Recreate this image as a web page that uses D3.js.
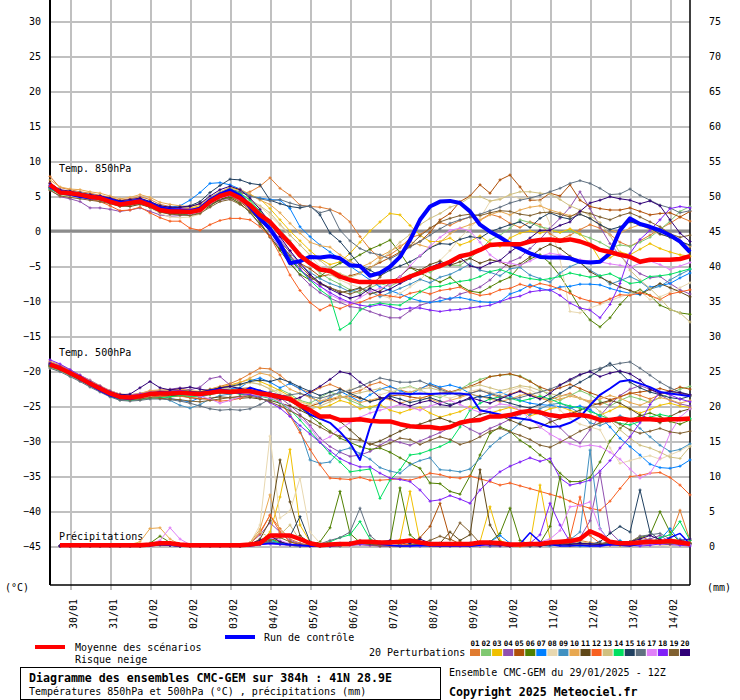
<!DOCTYPE html>
<html><head><meta charset="utf-8">
<script src="https://cdn.jsdelivr.net/npm/d3@7"></script>
<style>
body{margin:0;background:#fff}
svg{display:block;font-family:"DejaVu Sans Mono",monospace}
svg text, svg tspan{fill:#000}
</style></head><body>
<svg id="chart" width="740" height="700"></svg>
<script>
// ---------------- DATA ----------------
const runStartUTC = Date.UTC(2025,0,29,12);
const stepHours = 6;
const nSteps = 65;
const memberIds = ["01","02","03","04","05","06","07","08","09","10","11","12","13","14","15","16","17","18","19","20"];
const memberColors = ["#e07b30","#80c870","#f0c000","#9050b0","#b05008","#508000","#0080ff","#e8d8b0","#4090c0","#e8a850",
                      "#604818","#f86020","#d0c080","#00e060","#204060","#607080","#e080f8","#8020f8","#806030","#300078"];
const tempTicks = [-45,-40,-35,-30,-25,-20,-15,-10,-5,0,5,10,15,20,25,30];
const precipTicks = [0,5,10,15,20,25,30,35,40,45,50,55,60,65,70,75];
const dateTickLabels = ["30/01","31/01","01/02","02/02","03/02","04/02","05/02","06/02","07/02","08/02","09/02","10/02","11/02","12/02","13/02","14/02"];

const t850Mean = [6.6,5.5,5.4,5.2,4.9, 4.7,4.2,3.8,4.0,4.2, 3.7,3.0,2.8,2.8,2.7, 3.0,4.2,5.0,5.4,4.7, 3.7,2.3,1.3,-0.3,-1.8, -3.5,-4.6,-5.5,-5.7,-6.5, -7.0,-7.3,-7.3,-7.3,-7.2, -7.1,-6.5,-6.0,-5.4,-5.0, -4.4,-3.6,-3.3,-2.7,-2.0, -1.9,-1.9,-1.9,-1.5,-1.3, -1.2,-1.4,-1.2,-1.5,-2.0, -2.7,-3.0,-3.4,-3.7,-4.4, -4.1,-4.1,-4.1,-4.0,-3.6];
const t850Control = [6.4,5.6,5.3,5.0,4.8, 4.8,4.4,4.0,4.1,4.3, 3.9,3.2,3.0,2.9,2.8, 3.2,4.4,5.2,5.8,5.0, 3.5,1.8,0.3,-1.8,-4.6, -4.3,-3.7,-3.8,-3.6,-3.9, -4.9,-5.0,-6.4,-6.0,-5.1, -3.7,-1.3,1.6,3.5,4.2, 4.3,4.0,2.8,0.9,-0.1, -0.9,-1.8,-2.5,-3.2,-3.7, -3.8,-3.8,-3.9,-4.4,-4.5, -4.4,-3.2,0.1,1.8,1.0, 0.6,0.1,-0.6,-1.5,-3.0];
const t850Members = [
 [7.8,6.2,5.9,5.6,5.4, 5.1,4.8,4.4,4.6,4.9, 4.5,3.8,3.5,3.3,3.2, 3.4,4.2,4.9,5.5,5.3, 5.6,6.4,7.6,6.1,5.1, 3.7,3.5,3.4,3.1,2.5, 1.3,-0.8,-2.6,-3.9,-3.4, -2.4,-1.0,-0.5,0.4,1.2, 0.8,1.5,2.0,1.6,2.4, 2.0,1.1,0.5,1.3,0.9, -0.4,-1.2,-0.6,0.2,0.9, 0.4,-0.5,-1.6,-2.2,-1.4, -0.6,0.3,1.1,2.0,1.4],
 [6.0,5.2,5.0,4.9,4.6, 4.3,4.0,3.7,3.8,4.0, 3.6,2.9,2.6,2.6,2.5, 2.9,4.1,5.2,5.8,5.3, 4.1,2.8,1.5,0.1,-1.4, -3.2,-4.8,-6.0,-6.9,-7.6, -8.4,-8.9,-8.1,-7.5,-7.9, -7.2,-6.3,-5.6,-5.9,-5.1, -4.9,-4.9,-3.9,-2.7,-1.3, -0.6,0.4,1.6,1.2,0.6, 0.3,-0.2,0.0,-0.5,-1.0, -1.6,-2.4,-2.0,-2.2,-1.6, -0.9,0.2,1.4,2.8,3.5],
 [6.3,5.7,5.5,5.3,5.1, 4.9,4.5,4.2,4.3,4.5, 4.0,3.4,3.2,3.2,3.3, 3.6,4.5,5.5,6.2,5.8, 5.2,4.6,3.2,1.6,0.0, -1.4,-2.8,-4.0,-4.8,-4.4, -3.2,-1.6,0.0,1.3,2.5, 2.3,0.8,-0.6,-1.5,-1.5, -1.0,-2.0,-1.5,-0.7,-1.7, -2.2,-1.0,-0.3,0.0,-0.3, 0.1,-0.2,0.3,-0.4,-1.8, -4.1,-3.8,-3.0,-3.4,-2.6, -1.8,-2.5,-3.0,-3.4,-3.6],
 [5.9,4.9,4.6,4.2,3.3, 3.3,3.1,2.8,3.0,3.3, 2.8,2.3,2.1,2.2,2.4, 2.8,3.7,4.4,4.7,4.0, 2.6,0.9,-0.6,-2.4,-4.4, -6.3,-7.7,-8.8,-9.6,-10.2, -10.8,-11.0,-11.5,-12.0,-12.4, -12.4,-11.4,-10.6,-10.2,-9.5, -9.8,-9.0,-8.6,-8.0,-7.0, -5.6,-4.4,-3.8,-2.5,-1.2, 0.4,1.8,3.4,5.6,3.2, 0.6,-1.8,-3.5,-5.0,-6.1, -6.7,-6.5,-7.5,-8.4,-9.0],
 [6.7,5.6,5.5,5.4,5.2, 4.9,4.6,4.2,4.1,4.3, 3.8,3.2,2.9,3.0,3.0, 3.3,4.0,4.6,4.9,4.2, 3.0,1.6,0.2,-1.5,-3.0, -4.6,-5.4,-6.5,-6.2,-6.8, -6.4,-6.0,-5.2,-4.5,-3.8, -3.0,-2.2,-1.5,-0.2,1.6, 2.5,4.2,5.0,6.6,5.4, 7.3,8.0,6.3,4.4,4.4, 5.4,5.0,6.6,4.4,3.5, 3.2,3.0,3.0,3.3,2.8, 2.3,2.5,2.6,2.0,2.8],
 [6.2,5.3,5.2,5.0,4.8, 4.5,4.1,3.6,3.8,4.0, 3.5,2.8,2.5,2.4,2.3, 2.6,3.6,4.5,4.8,3.9, 2.7,1.0,-0.8,-2.8,-4.7, -6.2,-7.0,-6.5,-5.4,-4.6, -4.2,-3.4,-2.6,-2.0,-1.3, -3.1,-5.2,-6.0,-6.7,-7.3, -6.6,-7.8,-8.6,-8.8,-8.0, -7.2,-6.6,-5.0,-4.0,-3.4, -4.6,-6.4,-8.6,-11.0,-12.7, -13.7,-12.4,-10.5,-9.0,-8.4, -9.2,-10.6,-11.2,-11.7,-11.9],
 [6.5,5.7,5.6,5.5,5.2, 5.0,4.5,4.1,4.4,4.6, 4.2,3.6,3.4,3.6,4.4, 5.5,6.8,6.9,6.6,6.0, 5.0,4.7,4.5,4.4,3.2, 0.6,-0.8,-2.0,-3.0,-4.0, -5.0,-6.0,-7.0,-8.0,-8.5, -9.0,-9.6,-10.0,-10.2,-10.0, -9.6,-9.5,-9.8,-10.1,-10.2, -10.1,-9.0,-8.5,-7.7,-8.2, -8.5,-8.0,-7.9,-7.6,-7.6, -7.7,-8.2,-8.6,-8.9,-9.1, -8.0,-7.8,-7.5,-6.7,-6.0],
 [6.0,5.0,4.9,4.8,4.5, 4.4,4.0,3.5,3.6,3.9, 3.3,2.5,2.0,1.9,2.0, 2.4,3.9,4.8,5.3,4.9, 4.2,3.5,2.2,0.8,-0.6, -2.0,-3.5,-5.1,-6.2,-7.0, -7.6,-8.1,-8.5,-9.2,-9.6, -8.9,-8.0,-7.0,-5.5,-4.2, -2.8,-1.0,0.5,1.8,4.2, 4.7,5.1,4.6,4.8,4.2, 1.0,-4.0,-11.5,-11.7,-11.0, -10.5,-10.0,-9.4,-9.0,-8.6, -9.8,-9.4,-8.8,-8.1,-7.4],
 [6.1,5.3,5.1,4.9,4.7, 4.4,4.0,3.7,3.9,4.1, 3.6,2.9,2.6,2.5,2.4, 2.8,4.0,4.8,5.2,4.5, 3.4,2.0,0.6,-1.2,-3.0, -4.8,-5.9,-6.8,-7.5,-8.0, -8.7,-8.2,-8.6,-9.4,-8.8, -8.2,-7.6,-6.9,-7.4,-6.6, -6.2,-5.5,-4.7,-5.6,-5.9, -6.4,-5.4,-5.2,-6.3,-6.8, -7.3,-6.0,-5.1,-4.5,-5.6, -6.4,-7.6,-7.1,-6.5,-7.2, -8.3,-7.9,-7.0,-6.2,-5.5],
 [7.3,6.3,6.0,5.9,5.6, 5.4,5.0,4.6,4.8,5.2, 4.8,4.1,3.8,3.6,3.5, 3.8,4.8,5.6,6.2,6.0, 5.2,4.4,3.8,2.6,1.1, -0.3,-1.6,-2.1,-2.3,-3.4, -4.3,-5.2,-4.6,-3.6,-2.9, -2.1,-1.5,-2.0,-2.4,-1.6, -0.4,0.4,0.9,1.5,2.3, 2.8,2.3,3.0,3.4,3.6, 3.0,2.6,2.2,2.4,1.8, 0.8,0.2,-0.3,0.4,0.9, 0.2,-0.5,-0.8,-1.4,-2.2],
 [6.3,5.6,5.3,5.1,4.8, 4.6,4.1,3.6,3.5,3.8, 3.4,2.7,2.5,2.5,2.6, 2.9,3.8,4.5,5.0,4.4, 3.2,1.3,-0.9,-2.6,-4.1, -5.6,-6.6,-7.4,-8.1,-8.8, -8.5,-8.1,-9.0,-8.6,-7.4, -6.5,-5.2,-5.6,-4.8,-4.3, -4.9,-4.4,-3.9,-4.6,-4.1, -4.4,-5.1,-4.7,-3.7,-2.6, -1.9,-2.5,-3.6,-4.5,-5.8, -6.6,-7.3,-8.0,-8.5,-9.0, -8.3,-7.5,-8.1,-8.7,-9.4],
 [6.9,5.8,5.5,5.0,4.6, 4.2,3.6,2.9,3.0,3.4, 2.6,1.9,1.4,1.4,0.4, 0.1,0.9,1.5,1.8,1.8, 1.6,0.6,-0.8,-3.4,-6.3, -8.5,-10.2,-11.3,-10.6,-11.1, -10.5,-10.2,-9.6,-9.1,-9.3, -9.5,-8.9,-8.6,-9.0,-8.5, -8.3,-8.0,-8.8,-9.2,-9.0, -8.4,-8.2,-7.6,-8.0,-7.5, -7.8,-8.3,-8.9,-9.6,-10.0, -10.3,-9.7,-9.1,-9.2,-8.8, -9.2,-9.8,-9.0,-8.7,-8.4],
 [6.0,5.4,5.2,5.0,4.9, 4.6,4.3,4.0,4.2,4.5, 3.9,3.3,3.1,3.2,3.5, 3.9,4.8,5.6,6.0,5.4, 4.5,3.6,2.6,1.0,-0.6, -2.0,-3.4,-4.2,-5.4,-6.1, -6.6,-6.1,-5.3,-4.2,-3.0, -1.6,-0.5,0.9,1.8,2.5, 3.4,3.9,4.8,4.9,4.3, 4.5,5.2,5.6,5.6,5.4, 5.3,4.5,3.6,3.0,2.2, 1.2,-0.6,-3.2,-5.6,-7.0, -8.2,-9.6,-11.2,-11.7,-13.0],
 [6.0,5.3,5.2,5.0,4.7, 4.5,4.1,3.8,4.0,4.1, 3.5,2.9,2.7,2.8,2.7, 3.1,4.3,5.3,6.0,5.4, 4.4,2.8,0.8,-1.6,-3.8, -5.6,-7.0,-8.4,-9.4,-14.1, -13.2,-11.3,-10.6,-10.3,-10.5, -10.6,-9.7,-8.7,-8.0,-7.9, -7.5,-7.2,-7.0,-6.5,-5.8, -5.5,-6.0,-6.5,-6.8,-7.0, -6.8,-6.5,-6.0,-6.3,-6.6, -6.4,-6.1,-6.8,-7.5,-7.3, -6.5,-6.4,-6.2,-5.8,-5.4],
 [6.3,5.5,5.4,5.2,5.0, 4.8,4.4,4.0,4.2,4.4, 4.0,3.4,3.3,3.4,3.6, 4.2,5.5,6.5,7.4,7.3, 6.8,6.6,4.4,3.9,3.5, 3.3,3.6,2.3,-0.3,-1.5, -3.2,-4.9,-5.6,-6.4,-5.6, -5.0,-4.4,-3.6,-2.4,-1.8, -1.9,-1.2,-0.8,-1.0,-0.1, 0.4,0.9,1.3,0.5,1.8, 2.6,2.0,1.7,2.4,1.8, 0.9,0.2,0.6,1.3,0.9, 0.4,-0.4,-0.9,-1.5,-2.0],
 [6.2,5.4,5.2,5.0,4.8, 4.5,4.1,3.7,3.9,4.1, 3.6,3.0,2.8,2.8,2.9, 3.3,4.5,5.4,6.0,5.6, 5.0,4.6,4.3,4.5,4.0, 3.6,3.5,2.6,3.0,0.1, -1.4,-2.5,-3.1,-3.4,-4.0, -3.2,-2.3,-1.5,-0.6,0.3, 1.1,1.6,2.0,2.4,2.9, 3.4,4.0,4.4,4.7,5.1, 5.6,6.1,6.8,7.2,6.8, 6.1,5.2,5.3,6.0,5.1, 4.4,3.7,3.3,2.6,2.9],
 [6.4,5.5,5.3,5.1,4.9, 4.7,4.3,3.9,4.1,4.3, 3.8,3.1,2.9,2.7,2.4, 2.7,3.9,4.7,5.1,4.4, 3.3,1.9,0.6,-1.1,-2.9, -4.7,-6.2,-7.8,-9.1,-9.8, -10.4,-9.5,-8.7,-8.2,-7.7, -6.5,-5.0,-3.5,-2.2,-0.9, 0.1,0.4,0.0,-1.6,-3.4, -4.4,-4.6,-4.9,-4.3,-3.6, -3.2,-3.4,-3.8,-4.1,-4.3, -4.4,-4.7,-4.9,-5.2,-4.6, -4.3,-4.8,-5.5,-5.0,-4.5],
 [6.5,5.6,5.4,5.2,5.1, 4.8,4.4,4.0,4.3,4.6, 4.1,3.5,3.3,3.2,3.1, 3.3,4.3,5.0,5.5,4.7, 3.6,2.2,0.4,-1.6,-3.6, -5.4,-6.9,-7.9,-8.8,-9.6, -10.2,-10.6,-10.8,-10.5,-10.8, -11.2,-11.0,-11.0,-11.3,-11.5, -11.3,-11.2,-11.0,-10.8,-10.6, -10.1,-9.6,-9.3,-8.7,-8.5, -8.4,-9.2,-10.3,-11.0,-11.3, -12.4,-10.5,-7.5,-3.2,-1.2, 0.1,1.6,3.2,3.5,3.3],
 [5.8,5.0,4.8,4.6,4.4, 4.2,3.9,3.5,3.7,3.9, 3.4,2.7,2.4,2.3,2.2, 2.5,3.4,4.2,4.5,3.8, 2.8,1.5,0.0,-1.8,-3.5, -5.0,-6.4,-7.6,-8.1,-8.6, -9.0,-8.5,-7.8,-6.6,-5.0, -3.5,-2.1,-0.7,0.4,1.3, 1.8,2.2,2.4,2.2,2.6, 2.9,2.8,2.4,2.2,2.6, 2.7,2.4,2.0,2.8,2.5, 2.0,1.6,2.2,2.6,2.0, 1.3,0.6,-0.4,-0.9,-0.6],
 [6.8,5.9,5.7,5.4,5.2, 5.0,4.7,4.3,4.5,4.7, 4.2,3.6,3.4,3.4,3.5, 3.9,5.0,5.9,6.4,5.9, 4.7,3.1,1.2,-0.8,-2.8, -4.6,-6.2,-7.4,-8.3,-9.0, -9.6,-9.2,-8.2,-8.8,-8.3, -7.5,-6.8,-6.0,-5.2,-4.6, -4.8,-3.8,-5.0,-5.3,-4.6, -4.2,-3.0,-2.0,-1.0,0.1, 0.1,0.8,1.3,2.8,4.0, 4.4,4.9,4.6,4.4,3.9, 4.3,3.6,1.6,-0.3,-1.5]
];

const t500Mean = [-19.1,-19.6,-20.3,-21.0,-21.8, -22.5,-23.2,-23.7,-23.8,-23.6, -23.3,-23.2,-23.2,-23.1,-23.2, -23.3,-23.1,-22.9,-23.0,-22.9, -22.9,-23.2,-23.4,-23.7,-24.0, -24.9,-25.6,-26.5,-26.5,-27.0, -27.0,-26.9,-27.1,-27.2,-27.2, -27.6,-27.9,-28.0,-28.0,-28.2, -28.0,-27.4,-27.1,-27.0,-26.5, -26.5,-26.3,-25.9,-25.7,-25.9, -26.3,-26.5,-26.3,-26.3,-26.5, -27.0,-27.0,-26.8,-27.0,-26.9, -26.9,-27.0,-26.9,-26.9,-26.8];
const t500Control = [-19.0,-19.5,-20.4,-21.2,-22.0, -22.8,-23.5,-23.9,-24.0,-23.7, -23.4,-23.0,-23.1,-23.3,-23.0, -23.2,-22.8,-22.6,-22.9,-23.1, -22.4,-22.8,-23.2,-23.5,-23.9, -25.0,-26.2,-26.8,-27.4,-28.7, -30.3,-32.7,-28.0,-24.5,-23.2, -23.2,-23.3,-23.2,-23.3,-23.2, -23.2,-23.2,-23.4,-25.6,-25.9, -26.2,-26.6,-26.8,-27.0,-27.5, -28.0,-27.9,-27.4,-26.6,-24.9, -23.4,-22.5,-21.5,-21.3,-21.8, -22.3,-23.0,-23.2,-23.4,-23.6];
const t500Members = [
 [-18.7,-19.3,-20.0,-20.8,-21.6, -22.3,-23.0,-23.5,-23.6,-23.4, -23.0,-22.9,-22.8,-22.6,-22.9, -23.0,-22.6,-22.2,-21.8,-21.2, -20.4,-19.6,-19.7,-20.6,-21.8, -22.6,-23.1,-22.4,-21.9,-22.5, -23.2,-22.8,-22.0,-21.6,-22.3, -22.7,-23.1,-22.5,-22.0,-22.4, -23.0,-23.6,-23.2,-22.7,-23.3, -23.8,-23.3,-22.8,-23.4,-23.9, -24.1,-23.6,-23.2,-23.9,-24.5, -24.8,-24.3,-23.7,-23.1,-23.5, -24.0,-23.4,-22.9,-23.2,-23.5],
 [-19.2,-19.8,-20.5,-21.2,-22.0, -22.7,-23.4,-23.9,-24.0,-23.8, -23.5,-23.5,-23.6,-23.4,-23.6, -23.7,-23.4,-23.1,-23.3,-23.1, -23.2,-23.6,-23.0,-22.6,-23.3, -24.2,-24.6,-23.8,-23.0,-23.5, -24.2,-24.8,-25.4,-24.6,-23.4, -22.5,-22.2,-22.7,-23.4,-23.8, -23.2,-22.6,-21.8,-21.2,-20.8, -20.6,-20.5,-20.7,-21.4,-22.5, -23.6,-24.2,-23.5,-22.8,-23.4, -24.3,-25.0,-24.2,-23.6,-24.0, -24.5,-23.8,-23.2,-22.6,-22.2],
 [-19.3,-19.7,-20.4,-21.1,-21.9, -22.6,-23.2,-23.6,-23.7,-23.5, -23.2,-23.1,-23.0,-22.9,-23.2, -23.1,-22.7,-22.3,-22.0,-21.6, -21.2,-21.5,-22.1,-22.8,-23.6, -24.4,-24.8,-25.3,-24.9,-24.2, -24.6,-25.4,-25.1,-24.8,-25.6, -26.0,-25.5,-25.2,-26.0,-26.6, -26.2,-25.8,-25.1,-25.5,-26.0, -25.6,-25.2,-25.6,-26.4,-26.0, -25.4,-25.1,-25.6,-26.2,-26.7, -26.3,-25.7,-25.0,-25.4,-26.0, -25.5,-24.9,-24.6,-25.0,-25.2],
 [-18.8,-19.2,-19.9,-20.6,-21.3, -22.1,-22.8,-23.3,-23.4,-23.2, -22.9,-22.8,-22.6,-22.4,-22.7, -22.3,-21.1,-20.8,-22.0,-22.8, -23.1,-23.4,-23.0,-23.8,-24.9, -26.2,-27.8,-29.6,-30.8,-31.6, -32.2,-32.0,-31.5,-30.6,-29.8, -30.2,-30.6,-30.0,-29.4,-28.8, -28.1,-27.5,-28.3,-29.0,-28.2, -27.6,-26.9,-26.2,-25.5,-26.1, -26.9,-28.1,-29.5,-30.3,-28.4, -26.4,-24.8,-23.5,-22.6,-22.1, -22.6,-23.4,-24.2,-24.7,-25.0],
 [-19.0,-19.5,-20.2,-20.9,-21.6, -22.4,-23.0,-23.5,-23.6,-23.5, -23.1,-23.0,-23.0,-22.9,-23.1, -23.2,-22.9,-22.6,-22.7,-22.5, -22.4,-22.8,-23.3,-23.7,-24.2, -24.8,-25.0,-24.6,-24.1,-23.8, -23.5,-23.9,-24.3,-24.0,-23.6, -23.4,-23.7,-23.9,-23.5,-23.2, -23.0,-22.6,-22.2,-21.6,-20.8, -20.6,-20.4,-20.8,-21.5,-22.3, -22.8,-22.4,-21.9,-22.5,-23.1, -23.6,-24.1,-23.7,-23.2,-23.0, -22.8,-22.5,-22.9,-22.3,-22.6],
 [-19.4,-19.9,-20.6,-21.3,-22.1, -22.8,-23.5,-24.0,-24.0,-23.8, -23.5,-23.4,-23.4,-23.3,-23.4, -23.5,-23.3,-23.1,-23.2,-23.1, -23.0,-23.2,-23.5,-23.8,-24.3, -25.2,-26.4,-27.5,-28.6,-29.6, -30.2,-30.8,-31.2,-31.0,-31.6, -32.4,-33.2,-33.9,-36.0,-36.1, -37.2,-37.6,-35.0,-32.0,-28.9, -28.0,-28.6,-29.9,-30.8,-32.0, -33.0,-34.6,-35.8,-35.8,-35.2, -33.0,-30.0,-28.2,-27.0,-26.4, -26.0,-26.5,-27.2,-27.6,-27.0],
 [-19.1,-19.7,-20.4,-21.0,-21.8, -22.5,-23.3,-23.8,-23.8,-23.6, -23.4,-23.5,-23.9,-24.2,-24.4, -23.8,-23.2,-22.8,-22.5,-22.4, -21.4,-21.0,-21.6,-22.4,-21.8, -22.5,-23.5,-24.6,-23.8,-22.9, -23.6,-24.4,-23.4,-22.6,-22.2, -22.8,-23.4,-22.6,-21.8,-22.3, -22.0,-22.4,-23.2,-23.8,-23.4, -23.0,-23.6,-24.2,-24.6,-24.8, -24.9,-25.1,-25.3,-25.0,-25.5, -26.5,-28.0,-29.6,-30.8,-32.0, -33.3,-33.8,-33.9,-33.6,-32.7],
 [-19.6,-20.0,-20.6,-21.4,-22.2, -22.9,-23.6,-24.1,-24.2,-24.0, -23.7,-23.6,-23.5,-23.4,-23.5, -23.4,-23.1,-22.7,-22.4,-21.9, -21.7,-21.9,-22.5,-23.1,-23.8, -24.4,-24.9,-24.3,-23.6,-23.1, -22.6,-22.3,-22.9,-23.4,-23.0, -22.6,-22.3,-22.8,-23.2,-23.5, -23.9,-23.4,-22.9,-22.6,-23.0, -23.4,-22.8,-22.3,-22.7,-23.4, -24.2,-25.6,-26.8,-27.6,-28.0, -28.4,-31.0,-33.2,-32.8,-32.4, -32.1,-32.6,-32.0,-31.4,-30.6],
 [-19.3,-19.9,-20.6,-21.3,-22.0, -22.8,-23.5,-23.9,-23.9,-23.8, -23.6,-23.8,-24.2,-24.9,-25.3, -24.8,-24.0,-23.5,-23.3,-23.0, -22.7,-22.9,-23.4,-24.3,-26.2, -28.4,-32.7,-33.2,-33.0,-31.4, -31.0,-31.8,-32.6,-33.8,-34.3, -34.6,-33.4,-32.8,-32.4,-34.1, -34.2,-34.4,-34.0,-32.5,-30.8, -29.6,-28.7,-27.4,-26.2,-25.4, -24.8,-24.6,-25.2,-26.0,-27.4, -27.8,-27.2,-26.4,-27.0,-28.2, -29.4,-30.6,-31.5,-31.2,-30.4],
 [-18.6,-19.1,-19.8,-20.6,-21.4, -22.1,-22.8,-23.3,-23.4,-23.2, -22.8,-22.7,-22.7,-22.6,-22.8, -22.9,-22.6,-22.3,-22.1,-21.7, -21.0,-20.3,-20.6,-21.5,-22.6, -23.2,-23.8,-24.3,-24.0,-23.6, -23.9,-24.5,-24.2,-23.8,-24.1, -24.6,-24.2,-23.8,-24.0,-24.5, -24.2,-23.8,-23.3,-23.6,-24.0, -24.4,-24.0,-23.5,-23.2,-23.8, -24.4,-24.0,-23.6,-23.9,-24.3, -24.0,-23.5,-23.9,-24.5,-24.9, -24.3,-23.8,-24.1,-24.6,-24.2],
 [-19.2,-19.7,-20.3,-21.1,-21.9, -22.6,-23.3,-23.8,-24.0,-23.9, -23.6,-23.6,-23.5,-23.5,-23.8, -24.0,-23.9,-23.7,-23.8,-23.9, -23.8,-24.0,-24.2,-24.6,-25.0, -25.6,-26.3,-26.8,-26.4,-27.2, -28.4,-29.7,-30.5,-30.0,-29.3, -28.6,-28.0,-27.6,-27.1,-26.7, -27.2,-27.6,-27.0,-26.2,-25.9, -26.4,-27.0,-27.6,-28.2,-28.0, -27.3,-26.8,-26.1,-25.6,-25.0, -24.6,-24.2,-24.6,-25.4,-26.3, -26.8,-27.4,-26.5,-25.8,-25.4],
 [-19.0,-19.6,-20.4,-21.1,-21.8, -22.6,-23.4,-23.9,-24.0,-23.9, -23.6,-23.6,-23.7,-23.6,-23.8, -23.9,-24.1,-24.3,-24.2,-23.9, -23.4,-23.0,-23.6,-24.3,-26.4, -28.8,-31.2,-33.4,-35.3,-35.4, -35.5,-35.2,-35.6,-35.6,-35.5, -35.4,-35.6,-35.2,-34.6,-34.8, -35.2,-35.3,-35.0,-35.4,-35.8, -36.3,-36.0,-36.4,-36.8,-37.2, -37.6,-38.0,-38.6,-39.2,-39.6, -39.9,-38.6,-36.8,-35.1,-34.9, -34.6,-34.5,-35.2,-36.3,-37.7],
 [-19.5,-20.0,-20.7,-21.4,-22.2, -22.9,-23.6,-24.1,-24.1,-23.9, -23.6,-23.4,-23.3,-23.2,-23.3, -23.4,-23.0,-22.6,-22.3,-22.0, -21.6,-21.9,-22.6,-23.4,-24.2, -24.9,-25.5,-25.0,-24.4,-23.8, -23.4,-23.1,-22.8,-22.5,-22.9, -23.3,-23.0,-22.6,-22.4,-22.8, -23.1,-22.7,-22.3,-22.0,-22.4, -22.8,-22.5,-22.1,-22.3,-22.8, -23.2,-23.6,-23.4,-23.9,-24.6, -25.8,-27.0,-28.4,-29.6,-30.6, -31.0,-31.6,-32.3,-32.5,-30.8],
 [-19.4,-19.9,-20.6,-21.3,-22.1, -22.8,-23.6,-24.1,-24.2,-24.1, -23.9,-23.8,-23.7,-23.5,-23.6, -23.6,-23.3,-23.0,-23.1,-23.3, -23.5,-23.6,-23.9,-24.5,-25.5, -27.0,-28.6,-30.2,-31.8,-33.0, -34.4,-34.2,-34.0,-38.2,-35.6, -34.1,-32.0,-31.8,-31.3,-30.8, -30.1,-28.0,-25.6,-24.6,-24.0, -23.7,-23.9,-24.3,-24.0,-23.6, -24.0,-24.6,-25.0,-25.3,-25.8, -26.3,-26.9,-27.5,-27.7,-27.2, -26.6,-26.2,-26.5,-27.0,-26.8],
 [-19.1,-19.6,-20.3,-21.0,-21.8, -22.5,-23.2,-23.6,-23.7,-23.5, -23.2,-23.0,-22.9,-22.8,-22.9, -23.0,-22.7,-22.4,-22.2,-21.9, -21.5,-21.3,-21.5,-21.1,-21.6, -22.3,-22.9,-23.5,-23.0,-22.6, -23.2,-23.8,-24.4,-24.0,-23.6, -24.0,-24.5,-24.2,-23.8,-24.3, -24.8,-24.4,-24.0,-23.6,-23.8, -24.2,-24.6,-25.0,-25.3,-24.8, -24.0,-23.2,-22.4,-21.6,-20.8, -19.8,-18.9,-20.2,-21.6,-22.4, -23.0,-23.4,-23.8,-24.0,-23.6],
 [-19.6,-20.1,-20.8,-21.5,-22.3, -23.0,-23.7,-24.2,-24.3,-24.2, -24.0,-24.0,-24.1,-24.3,-24.6, -25.0,-25.4,-25.6,-25.5,-25.6, -25.4,-24.8,-24.0,-23.6,-23.4, -23.2,-23.6,-23.9,-23.5,-23.1, -22.8,-22.2,-21.6,-21.0,-21.3, -21.6,-21.6,-21.4,-22.0,-22.6, -23.1,-23.5,-23.2,-22.8,-23.2, -23.6,-24.0,-23.8,-23.4,-23.0, -22.6,-22.0,-21.4,-20.6,-20.0, -19.6,-19.2,-18.9,-18.7,-19.6, -20.6,-21.6,-22.4,-23.0,-23.4],
 [-18.9,-19.4,-20.1,-20.9,-21.7, -22.4,-23.1,-23.6,-23.7,-23.6, -23.3,-23.2,-23.1,-23.1,-23.4, -23.6,-24.0,-24.6,-24.2,-23.7, -23.3,-23.5,-23.8,-24.4,-25.4, -26.6,-28.0,-30.1,-29.4,-28.2, -27.4,-26.6,-26.0,-25.6,-25.2, -24.8,-25.2,-25.6,-25.0,-24.6, -24.2,-24.8,-25.4,-25.9,-25.3, -24.7,-24.9,-25.6,-26.8,-28.0, -29.0,-29.8,-30.4,-30.8,-30.6, -30.8,-31.6,-32.6,-34.0,-35.3, -34.6,-32.4,-28.9,-26.6,-25.4],
 [-18.4,-19.0,-19.8,-20.6,-21.5, -22.2,-22.9,-23.4,-23.5,-23.3, -23.1,-23.0,-22.9,-22.8,-23.0, -23.1,-22.9,-22.8,-23.0,-23.2, -23.4,-23.8,-24.5,-25.3,-26.5, -27.8,-29.0,-30.2,-31.4,-32.5, -33.2,-33.7,-33.7,-34.6,-35.3, -35.5,-35.8,-37.0,-38.6,-38.4, -37.8,-38.3,-38.9,-37.0,-35.6, -34.4,-33.6,-33.0,-32.4,-32.9, -32.5,-35.3,-36.3,-36.0,-35.6, -34.3,-32.8,-31.0,-29.4,-27.4, -24.8,-23.0,-23.4,-24.0,-24.4],
 [-19.3,-19.8,-20.5,-21.2,-22.0, -22.7,-23.4,-23.9,-24.1,-24.0, -23.8,-23.9,-24.0,-24.1,-24.3, -24.4,-24.2,-24.0,-23.8,-23.6, -23.6,-23.9,-24.4,-25.0,-25.7, -26.4,-27.2,-28.0,-28.8,-29.3, -29.7,-29.9,-30.4,-30.8,-30.3, -29.6,-29.8,-30.5,-29.9,-29.4, -29.8,-30.5,-30.1,-29.4,-28.6, -28.2,-28.7,-29.2,-29.8,-30.6, -30.9,-30.2,-29.4,-28.6,-28.0, -27.4,-27.0,-27.6,-28.4,-28.9, -28.6,-28.2,-28.7,-28.9,-28.6],
 [-18.9,-19.4,-20.1,-20.8,-21.6, -22.3,-23.0,-23.4,-23.3,-22.4, -21.5,-22.4,-22.7,-22.5,-22.3, -22.6,-22.8,-22.4,-22.2,-22.5, -22.8,-23.2,-23.6,-24.0,-24.2, -23.8,-23.0,-22.2,-21.2,-20.1, -20.4,-21.6,-22.6,-23.8,-23.9, -24.6,-25.0,-24.5,-24.2,-24.8, -25.0,-24.4,-23.8,-24.2,-24.6, -24.0,-23.4,-22.9,-23.5,-24.0, -23.2,-22.0,-21.2,-20.5,-20.1, -20.8,-20.3,-20.0,-20.4,-21.3, -22.6,-23.2,-22.9,-23.1,-23.4]
];

const precipMean = [null,0.1,0.1,0.1,0.1, 0.1,0.1,0.1,0.1,0.1, 0.2,0.4,0.4,0.2,0.1, 0.1,0.1,0.1,0.1,0.1, 0.2,0.4,1.5,1.5,1.5, 1.0,0.4,0.1,0.2,0.3, 0.3,0.6,0.6,0.5,0.5, 0.6,0.8,0.5,0.3,0.3, 0.3,0.3,0.3,0.5,0.5, 0.4,0.2,0.2,0.3,0.3, 0.5,0.6,0.7,1.0,2.1, 1.5,0.6,0.4,0.4,0.5, 0.6,0.6,0.7,0.5,0.3];
const precipControl = [null,0,0,0,0, 0,0,0,0,0, 0,0.2,0.1,0,0, 0,0,0,0,0, 0,0.2,0.4,0.3,0.2, 0.1,0,0,0,0.1, 0.2,0.8,0.6,0.3,0.1, 0,0,0.1,0,0, 0,0,0,0.1,0.4, 0.2,0,0.3,1.9,0.6, 0.2,0,0,0.1,0, 0,0.2,0.1,0,0.3, 0.6,0.4,1.2,1.8,0.3];
const precipMembers = [
 [null,0,0,0,0, 0,0,0,0,0.1, 0.3,0.6,0.4,0.1,0, 0,0,0,0,0, 0.3,2.0,4.4,2.5,1.0, 0.4,0.1,0,0.2,0.3, 0.5,0.8,0.4,0.2,0.1, 0,0.2,0.4,0.1,0, 0.3,0.6,0.2,0,0.1, 0.3,0.1,0,0.2,0.4, 0.6,0.3,0.2,0.8,0.5, 0.3,0.2,0.1,0.6,1.4, 0.8,0.3,1.2,5.1,0.8],
 [null,0,0,0,0, 0,0,0,0,0, 0.2,0.4,0.3,0,0, 0,0,0,0,0, 0.2,0.8,1.5,0.6,0.3, 0.1,0,0,0.1,0.2, 0.3,0.4,0.2,0.1,0, 0,0.1,0,0,0.2, 0.4,0.2,0,0,0, 0,0.1,0.3,0.2,0.1, 0.2,0.4,0.6,0.3,0.1, 0,0.2,0.1,0.3,0.6, 1.0,0.4,0.2,0.5,0.8],
 [null,0,0,0,0, 0,0,0,0,0, 0.1,0.3,0.2,0,0, 0,0,0,0,0, 0.1,0.6,2.0,7.0,13.8, 3.0,0.6,0.2,0.1,0, 0.2,0.3,0.1,0.4,0.2, 0.9,7.8,0.6,0.2,0, 0,0.1,0.3,0.6,5.6, 0.8,0.2,0,0.3,8.7, 1.0,0.2,0,0.1,0.3, 0.2,0.4,0.1,0,0.2, 0.3,0.5,0.2,0.6,0.4],
 [null,0,0,0,0, 0,0,0,0,0, 0.2,0.3,0.2,0,0, 0,0,0,0,0, 0.4,1.6,3.3,2.0,0.8, 0.3,0.1,0,0,0.2, 0.4,0.6,0.3,0.1,0, 0,0.2,0.5,0.3,0.1, 0,0,0.2,0.4,0.2, 0.1,0,0.2,0.1,0.3, 0.5,0.2,0.4,1.2,3.6, 10.4,2.0,0.6,0.3,0.8, 1.0,1.5,0.6,0.3,0.2],
 [null,0,0,0,0, 0,0,0,0,0, 0.1,0.2,0.1,0,0, 0,0,0,0,0, 0.2,0.5,1.0,0.6,0.2, 0.1,0,0,0.1,0.3, 0.4,0.6,0.3,0,0, 0,0.3,1.2,2.8,6.1, 1.0,0.3,0.1,0,0.2, 0.1,0,0,0.2,0.1, 0.3,0.2,0.4,0.2,0.1, 0.3,0.6,0.2,0.1,0.4, 0.2,0.4,0.3,0.5,0.2],
 [null,0,0,0,0, 0,0,0,0,0, 0.4,1.4,0.5,0.1,0, 0,0,0,0,0, 0.1,0.3,0.6,0.3,0.1, 0,0.2,0.6,2.6,7.8, 1.8,0.5,0.3,0.2,0.6, 8.3,1.6,0.4,0.2,0.1, 0,0.2,0.1,0.3,0.6, 1.8,5.4,0.8,0.2,0.4, 2.8,9.9,1.2,0.3,0.1, 0.2,0.1,0.3,0.6,1.2, 1.6,4.9,2.0,0.6,0.3],
 [null,0,0,0,0, 0,0,0,0,0, 0.1,0.2,0.1,0,0, 0,0,0,0,0, 0.1,0.4,0.8,0.4,0.2, 0,0,0,0,0.1, 0.2,0.3,0.1,0,0, 0,0,0,0,0, 0,0.1,0,0.2,0.6, 1.5,0.4,0.2,0,0.1, 0,0.2,0.1,0,0, 0.2,0.3,0.8,0.2,0.1, 0.4,0.9,2.5,0.6,0.3],
 [null,0,0,0,0, 0,0,0,0,0, 0.1,0.2,0.1,0,0, 0,0,0,0,0, 0.4,3.0,15.7,4.0,5.0, 9.7,2.0,0.4,0.1,0, 0.1,0.2,0.1,0,0, 0,0.1,0.2,0,0, 0,0,0.1,0.2,0.1, 0,0,0.1,0.3,0.2, 0.1,0,0.2,0.4,0.3, 0.1,0,0.2,0.6,0.4, 0.2,0.1,0,0.3,0.2],
 [null,0,0,0,0, 0,0,0,0,0, 0.1,0.2,0.1,0,0, 0,0,0,0,0, 0.1,0.3,0.5,0.3,0.1, 0,0,0.1,0.2,0.4, 0.5,0.6,0.3,0.1,0, 0,0,0.1,0.3,0.1, 0,0,0.2,0.1,0, 0.3,0.2,0.1,0,0.2, 0.4,0.6,0.9,2.0,13.7, 2.5,0.6,0.3,0.2,0.4, 0.6,0.3,0.5,1.0,0.4],
 [null,0,0,0,0, 0,0,0,0.2,0.6, 2.5,2.6,1.0,0.2,0, 0,0,0,0,0, 0.5,2.4,7.3,2.0,0.6, 0.2,0,0,0.1,0.2, 0.3,0.4,0.2,0,0, 0,0.1,0.3,0.2,0, 0.1,0.3,0.2,0,0.1, 0.2,0.1,0,0.1,0.3, 0.2,0.4,0.2,0.1,0.3, 0.2,0.1,0.3,0.5,0.2, 0.4,0.6,0.3,0.8,0.5],
 [null,0,0,0,0, 0,0,0,0,0, 0.1,0.2,0.1,0,0, 0,0,0,0,0, 0.2,1.0,3.6,12.3,6.3, 1.5,0.4,0.1,0,0.2, 0.4,0.3,0.2,0.1,0, 0.2,0.6,0.3,0.1,0.4, 2.0,0.8,1.6,10.9,3.0, 0.6,0.2,0.1,0,0.2, 0.3,0.2,0.1,0.2,0.4, 0.2,0.3,0.6,0.4,0.2, 0.3,0.5,0.4,0.2,0.3],
 [null,0,0,0,0, 0,0,0,0,0, 0.2,0.3,0.2,0,0, 0,0,0,0,0, 0.3,1.8,4.4,2.0,0.6, 0.2,0,0,0.1,0.3, 0.2,0.4,0.3,0.1,0, 0.1,0.3,0.2,0,0, 0.1,0,0.2,0.4,0.2, 0.1,0,0.1,0.3,0.2, 0.4,0.6,1.2,7.0,1.5, 0.4,0.2,0.3,0.2,0.5, 0.6,0.4,1.0,0.8,0.3],
 [null,0,0,0,0, 0,0,0,0,0, 0.1,0.3,0.1,0,0, 0,0,0,0,0, 0.4,2.0,1.2,1.6,3.0, 0.8,0.2,0,0.1,0, 0.1,0.2,0,0,0, 0,0,0.1,0,0, 0,0.2,0.1,0,0, 0,0.1,0,0.2,0.3, 0.2,0.1,0.3,0.6,0.4, 0.2,0.1,0.3,0.4,1.0, 0.5,0.3,0.6,0.4,0.2],
 [null,0,0,0,0, 0,0,0,0,0, 0.1,0.3,0.2,0,0, 0,0,0,0,0, 0.2,0.6,1.0,0.4,0.1, 0,0.1,0.2,0.6,1.2, 1.6,3.5,1.0,0.3,0.1, 0,0.1,0.2,0.1,0, 0,0.1,0.3,0.2,0, 0.1,0.2,0.4,0.2,0.1, 0.2,0.4,0.2,0.1,0.3, 0.2,0.4,0.6,0.3,0.2, 0.5,1.2,1.6,3.5,0.8],
 [null,0,0,0,0, 0,0,0,0,0, 0.1,0.2,0.1,0,0, 0,0,0,0,0, 0.1,0.5,1.2,1.6,1.4, 4.2,0.6,0.2,0.1,0, 0.3,0.4,0.2,0.1,0, 0,0.1,0.2,0.1,0.1, 0.2,0.1,0,0.1,0.2, 0.1,0,0.2,0.1,0, 0.2,0.1,0.3,0.4,0.2, 0.6,1.8,2.8,2.0,8.0, 2.0,0.8,0.4,0.6,0.3],
 [null,0,0,0,0, 0,0,0,0,0, 0.1,0.2,0.1,0,0, 0,0,0,0,0, 0.1,0.3,0.6,0.3,0.1, 0,0.1,0.3,0.8,1.2, 2.0,5.4,1.5,0.3,0.1, 0,0,0.2,0.1,0, 0,0.1,0,0,0.1, 0,0.2,0.1,0,0.2, 0.1,0.3,0.2,0.1,0.3, 0.4,0.3,0.2,0.5,1.4, 1.6,1.8,1.0,0.4,0.2],
 [null,0,0,0,0, 0,0,0,0,0, 0.3,0.8,2.6,1.0,0.2, 0,0,0,0,0, 0.2,0.6,1.2,0.8,0.3, 0.1,0,0,0.2,0.1, 0.2,0.3,0.1,0,0, 0,0,0.1,0.2,0.1, 0,0,0.1,0,0.2, 0.1,0.3,0.2,0.4,0.6, 1.0,2.2,5.6,5.8,6.3, 2.4,0.6,0.3,0.1,0.2, 0.3,0.2,0.4,0.6,0.2],
 [null,0,0,0,0, 0,0,0,0,0, 0.1,0.2,0.1,0,0, 0,0,0,0,0, 0.1,0.2,0.3,0.2,0.1, 0,0,0,0,0.1, 0.1,0.2,0.1,0,0, 0,0,0,0.1,0, 0,0,0,0.1,0, 0,0.1,0.2,0.4,1.6, 6.1,3.0,0.6,0.2,0.1, 0,0.1,0.2,0.1,0, 0.1,0.3,0.2,0.1,0],
 [null,0,0,0,0, 0,0,0,0,0, 0.1,0.2,0.1,0,0, 0,0,0,0,0, 0.2,0.4,0.8,1.2,0.6, 0.2,0.1,0,0.1,0.2, 0.3,0.4,0.2,0,0, 0,0.1,0.3,0.8,1.4, 0.9,3.3,2.0,0.4,0.2, 0.1,0,0.2,0.3,0.1, 0.2,0.4,0.3,0.2,0.1, 0.3,0.6,0.4,0.2,0.5, 0.7,0.4,0.3,0.6,0.4],
 [null,0,0,0,0, 0,0,0,0,0, 0.1,0.2,0.1,0,0, 0,0,0,0,0, 0.3,0.8,1.5,0.6,0.2, 0.1,0,0,0.2,0.3, 0.4,0.6,0.4,0.6,0.8, 0.6,0.4,1.0,0.4,0.2, 0.1,0.2,0.4,0.3,0.2, 0.1,0,0.2,0.1,0, 0.2,0.3,0.2,0.4,0.3, 0.2,0.3,0.5,0.6,1.0, 1.5,0.9,0.6,0.8,1.0]
];

// ---------------- CHART ----------------
const svg = d3.select("#chart");
const W = 740, H = 700;
const plotL = 50, plotR = 690, plotT = 0, plotB = 585;
const FONT = '"DejaVu Sans Mono", monospace';

svg.append("rect").attr("width", W).attr("height", H).attr("fill", "#fff");

const times = d3.range(nSteps).map(i => new Date(runStartUTC + i * stepHours * 3600e3));
const dateTicks = dateTickLabels.map((lab, k) => new Date(Date.UTC(2025, 0, 30 + k)));

const x = d3.scaleUtc().domain([times[0], times[nSteps - 1]]).range([plotL, plotR]);
const yT = d3.scaleLinear().domain([-45, 30]).range([546, 21]);
const yP = d3.scaleLinear().domain([0, 75]).range([546, 21]);

// horizontal grid
svg.append("g").attr("transform", `translate(${plotL},0)`)
  .call(d3.axisLeft(yT).tickValues(tempTicks).tickSize(-(plotR - plotL)).tickFormat(""))
  .call(g => g.select(".domain").remove())
  .call(g => g.selectAll("line").attr("stroke", "#c0c0c0").attr("stroke-width", 2).attr("shape-rendering", "crispEdges"));

// vertical grid (extends a few px below the axis)
svg.append("g").attr("transform", `translate(0,${plotB + 5})`)
  .call(d3.axisBottom(x).tickValues(dateTicks).tickSize(-(plotB + 5)).tickFormat(""))
  .call(g => g.select(".domain").remove())
  .call(g => g.selectAll("line").attr("stroke", "#c0c0c0").attr("stroke-width", 2).attr("shape-rendering", "crispEdges"));

// zero line
svg.append("line").attr("x1", plotL).attr("x2", plotR).attr("y1", yT(0)).attr("y2", yT(0))
  .attr("stroke", "#8c8c8c").attr("stroke-width", 3);

// left labels
svg.append("g").attr("transform", `translate(${plotL},0)`)
  .call(d3.axisLeft(yT).tickValues(tempTicks).tickSize(0).tickPadding(9))
  .call(g => g.select(".domain").remove())
  .call(g => g.selectAll("text").attr("font-family", FONT).attr("font-size", 10).attr("fill", "#000"));

// right labels
svg.append("g").attr("transform", `translate(${plotR},0)`)
  .call(d3.axisRight(yP).tickValues(precipTicks).tickSize(0).tickPadding(19))
  .call(g => g.select(".domain").remove())
  .call(g => g.selectAll("text").attr("font-family", FONT).attr("font-size", 10).attr("fill", "#000"));

// date labels
svg.append("g").attr("transform", `translate(0,${plotB + 5})`)
  .call(d3.axisBottom(x).tickValues(dateTicks).tickSize(0).tickFormat((d, i) => dateTickLabels[i]))
  .call(g => g.select(".domain").remove())
  .call(g => g.selectAll("text")
    .attr("font-family", FONT).attr("font-size", 10).attr("fill", "#000")
    .attr("transform", "rotate(-90)").attr("text-anchor", "end")
    .attr("x", -9).attr("y", 3).attr("dy", "0.35em"));

// axis frame
svg.append("line").attr("x1", plotL).attr("x2", plotL).attr("y1", plotT).attr("y2", plotB).attr("stroke", "#000").attr("stroke-width", 2);
svg.append("line").attr("x1", plotR).attr("x2", plotR).attr("y1", plotT).attr("y2", plotB).attr("stroke", "#000").attr("stroke-width", 1.5);
svg.append("line").attr("x1", plotL).attr("x2", plotR).attr("y1", plotB).attr("y2", plotB).attr("stroke", "#000").attr("stroke-width", 1.5);

const addText = (tx, ty, parts, size, bold) => {
  const t = svg.append("text").attr("x", tx).attr("y", ty).attr("dy", "0.35em")
    .attr("font-family", FONT).attr("font-size", size || 10).attr("font-weight", bold ? "bold" : "normal")
    .attr("fill", "#000");
  (Array.isArray(parts) ? parts : [parts]).forEach(p => t.append("tspan").attr("fill", "#000").text(p));
  return t;
};

// units
addText(5, 587, "(°C)");
addText(707, 587, ["(", "m", "m", ")"]);

// series labels
addText(59, 168, "Temp. 850hPa");
addText(59, 352, "Temp. 500hPa");
addText(59, 536, "Précipitations");

const mkLine = scale => d3.line().defined(d => d != null).x((d, i) => x(times[i])).y(d => scale(d));
const markerPath = (arr, scale) => arr.map((d, i) => {
  if (d == null) return "";
  const px = x(times[i]), py = scale(d);
  return `M${px - 1.5},${py}h3M${px},${py - 1.5}v3`;
}).join("");

const layers = [
  { members: t850Members, mean: t850Mean, ctrl: t850Control, scale: yT, ctrlW: 4 },
  { members: t500Members, mean: t500Mean, ctrl: t500Control, scale: yT, ctrlW: 2 },
  { members: precipMembers, mean: precipMean, ctrl: precipControl, scale: yP, ctrlW: 1.5 }
];

layers.forEach(L => {
  const g = svg.append("g");
  L.members.forEach((arr, m) => {
    g.append("path").attr("d", mkLine(L.scale)(arr)).attr("fill", "none")
      .attr("stroke", memberColors[m]).attr("stroke-width", 1);
    g.append("path").attr("d", markerPath(arr, L.scale)).attr("fill", "none")
      .attr("stroke", memberColors[m]).attr("stroke-width", 1);
  });
  g.append("path").attr("d", mkLine(L.scale)(L.ctrl)).attr("fill", "none")
    .attr("stroke", "#0000ff").attr("stroke-width", L.ctrlW).attr("stroke-linejoin", "round");
  g.append("path").attr("d", mkLine(L.scale)(L.mean)).attr("fill", "none")
    .attr("stroke", "#ff0000").attr("stroke-width", 4.5).attr("stroke-linejoin", "round");
});

// ---------------- LEGEND ----------------
svg.append("line").attr("x1", 35).attr("x2", 65).attr("y1", 647).attr("y2", 647).attr("stroke", "#ff0000").attr("stroke-width", 4);
addText(75, 647, "Moyenne des scénarios");
addText(75, 659, "Risque neige");
svg.append("line").attr("x1", 225).attr("x2", 255).attr("y1", 637).attr("y2", 637).attr("stroke", "#0000ff").attr("stroke-width", 4);
addText(264, 637, "Run de contrôle");
addText(369, 652, "20 Perturbations");

const sw = d3.scaleBand().domain(memberIds).range([470, 690]).paddingInner(0.09);
memberIds.forEach((id, m) => {
  svg.append("rect").attr("x", sw(id)).attr("y", 649).attr("width", sw.bandwidth()).attr("height", 7).attr("fill", memberColors[m]);
  svg.append("text").attr("x", sw(id) + sw.bandwidth() / 2).attr("y", 646).attr("text-anchor", "middle")
    .attr("font-family", FONT).attr("font-size", 7.5).attr("font-weight", "bold").attr("fill", "#000").text(id);
});

// ---------------- FOOTER ----------------
svg.append("rect").attr("x", 20.5).attr("y", 667.5).attr("width", 420).attr("height", 32).attr("fill", "none").attr("stroke", "#000").attr("stroke-width", 1);
addText(29, 677.5, "Diagramme des ensembles CMC-GEM sur 384h : 41N 28.9E", 11.6, true);
addText(29, 691.5, ["Températures 850hPa et 500hPa (°C) , précipitations (", "m", "m", ")"]);
addText(449, 672, "Ensemble CMC-GEM du 29/01/2025 - 12Z");
addText(449, 692, "Copyright 2025 Meteociel.fr", 11.6, true);
</script>
</body></html>
